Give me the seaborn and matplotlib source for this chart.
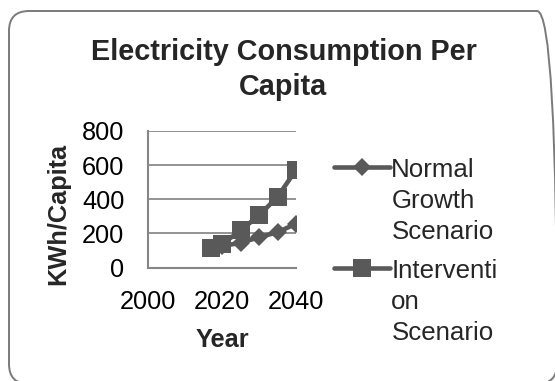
import matplotlib
matplotlib.use("Agg")
import matplotlib.pyplot as plt
from matplotlib.patches import FancyBboxPatch
import seaborn as sns
import pandas as pd

# Electricity consumption per capita under two scenarios
years = [2017, 2020, 2025, 2030, 2035, 2040]
normal_growth = [114, 125, 145, 177, 207, 256]
intervention = [114, 136, 217, 305, 414, 572]

series_labels = ["Normal\nGrowth\nScenario", "Interventi\non\nScenario"]
x_ticks = [2000, 2020, 2040]
y_ticks = [0, 200, 400, 600, 800]

sns.set_style("white")
plt.rcParams["font.family"] = ["Liberation Sans", "DejaVu Sans"]

W, H = 555, 381
fig = plt.figure(figsize=(W / 100, H / 100), dpi=100)
ax = fig.add_axes([148 / W, 1 - 267.5 / H, 148 / W, 136.5 / H])

line_color = "#595959"
df_normal = pd.DataFrame({"Year": years, "KWh": normal_growth})
df_interv = pd.DataFrame({"Year": years, "KWh": intervention})

sns.lineplot(data=df_normal, x="Year", y="KWh", ax=ax, color=line_color,
             linewidth=3.3, marker="D", markersize=9.5, markeredgewidth=0,
             label=series_labels[0], zorder=3)
sns.lineplot(data=df_interv, x="Year", y="KWh", ax=ax, color=line_color,
             linewidth=3.3, marker="s", markersize=13.5, markeredgewidth=0,
             label=series_labels[1], zorder=4)

ax.set_xlim(2000, 2040)
ax.set_ylim(0, 800)
ax.set_xticks(x_ticks)
ax.set_yticks(y_ticks)
ax.yaxis.grid(True, color="#8a8a8a", linewidth=1.3)
ax.set_axisbelow(True)
for side in ["top", "right"]:
    ax.spines[side].set_visible(False)
for side in ["left", "bottom"]:
    ax.spines[side].set_color("#868686")
    ax.spines[side].set_linewidth(1.5)
ax.tick_params(axis="both", length=0, labelsize=18.3, colors="black")
ax.tick_params(axis="y", pad=17)
ax.tick_params(axis="x", pad=16)

ax.set_xlabel("Year", fontsize=18.3, fontweight="bold")
ax.xaxis.set_label_coords(222 / W, 1 - 347 / H, transform=fig.transFigure)
ax.xaxis.label.set_va("baseline")
ax.set_ylabel("KWh/Capita", fontsize=18.3, fontweight="bold")
ax.yaxis.set_label_coords(58 / W, 1 - 213.5 / H, transform=fig.transFigure)
ax.yaxis.label.set_va("center")

fig.text(283.5 / W, 1 - 38 / H, "Electricity Consumption Per\nCapita",
         ha="center", va="top", fontsize=20.8, fontweight="bold",
         linespacing=1.32)

leg = ax.legend(loc="upper left", bbox_to_anchor=(334 / W, 1 - 158 / H),
                bbox_transform=fig.transFigure, frameon=False,
                fontsize=18.6, borderpad=0, borderaxespad=0,
                handlelength=2.17, handletextpad=0.05, labelspacing=0.58)
for t in leg.get_texts():
    t.set_linespacing(1.37)
# keep each legend key level with the first line of its label
for col in leg._legend_handle_box.get_children():
    for item in col.get_children():
        item.align = "top"

# Rounded chart-area frame; its right and bottom edges run past the canvas
frame = FancyBboxPatch((9 / W, 1 - 384 / H), 548 / W, 373 / H,
                       boxstyle="round,pad=0,rounding_size=%f" % (20 / W),
                       transform=fig.transFigure, fill=False,
                       edgecolor="#7a7a7a", linewidth=1.4,
                       mutation_aspect=W / H, clip_on=False)
fig.patches.append(frame)

fig.savefig("out.png", dpi=100)
